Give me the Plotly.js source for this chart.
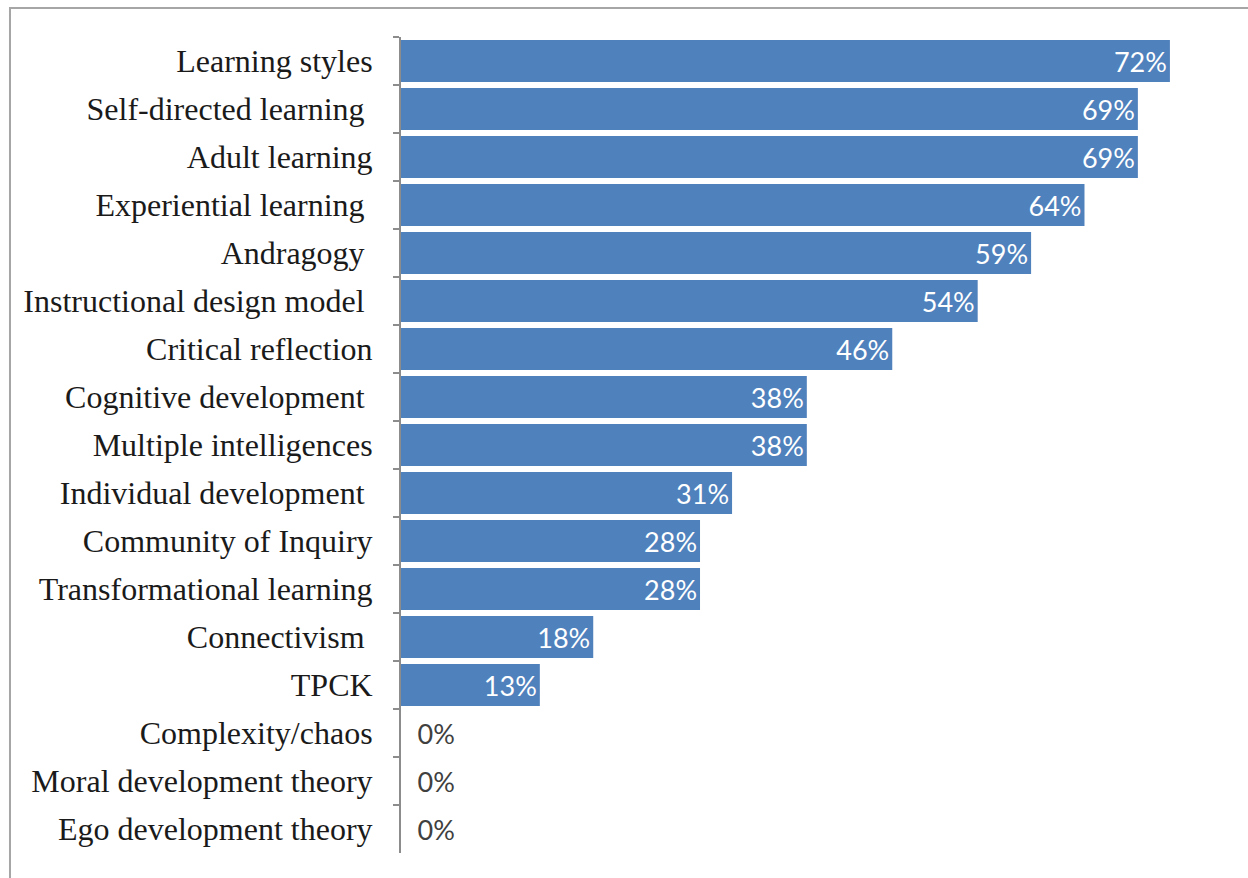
<!DOCTYPE html>
<html>
<head>
<meta charset="utf-8">
<script src="https://cdn.plot.ly/plotly-3.0.1.min.js"></script>
<style>html,body{margin:0;padding:0;background:#fff;}#chart{width:1248px;height:878px;}</style>
</head>
<body>
<div id="chart"></div>
<script>
const categories = [
  "Learning styles",
  "Self-directed learning\u00a0",
  "Adult learning",
  "Experiential learning\u00a0",
  "Andragogy\u00a0",
  "Instructional design model\u00a0",
  "Critical reflection",
  "Cognitive development\u00a0",
  "Multiple intelligences",
  "Individual development\u00a0",
  "Community of Inquiry",
  "Transformational learning",
  "Connectivism\u00a0",
  "TPCK",
  "Complexity/chaos",
  "Moral development theory",
  "Ego development theory"
];
const percentages = [72, 69, 69, 64, 59, 54, 46, 38, 38, 31, 28, 28, 18, 13, 0, 0, 0];

const positions = percentages.map(v => v > 0 ? 'inside' : 'outside');
const templates = percentages.map(v => v > 0 ? '%{x}%' : '\u2002%{x}%');

const trace = {
  type: 'bar',
  orientation: 'h',
  y: categories,
  x: percentages,
  marker: {color: '#4f81bd'},
  texttemplate: templates,
  textposition: positions,
  insidetextanchor: 'end',
  insidetextfont: {family: 'Lato, "Liberation Sans", sans-serif', size: 27, color: '#ffffff'},
  outsidetextfont: {family: 'Lato, "Liberation Sans", sans-serif', size: 27, color: '#404040'},
  textangle: 0,
  cliponaxis: false,
  hoverinfo: 'skip'
};

const layout = {
  width: 1248,
  height: 878,
  margin: {l: 401, r: 14, t: 37, b: 25, pad: 0},
  paper_bgcolor: '#ffffff',
  plot_bgcolor: '#ffffff',
  showlegend: false,
  bargap: 0.125,
  xaxis: {
    range: [0, 78],
    showgrid: false,
    zeroline: false,
    showline: false,
    showticklabels: false,
    ticks: '',
    fixedrange: true
  },
  yaxis: {
    type: 'category',
    autorange: 'reversed',
    showgrid: false,
    zeroline: false,
    showline: true,
    linecolor: '#8c8c8c',
    linewidth: 2,
    ticks: 'outside',
    tickson: 'boundaries',
    ticklen: 6,
    tickwidth: 2,
    tickcolor: '#8c8c8c',
    ticklabelstandoff: 20,
    tickfont: {family: '"Liberation Serif", "Times New Roman", serif', size: 32, color: '#1a1a1a'},
    fixedrange: true
  },
  shapes: [{
    type: 'rect', xref: 'paper', yref: 'paper',
    x0: -0.4694, x1: 1.2, y0: -0.2, y1: 1.0355,
    line: {color: '#a6a6a6', width: 2},
    fillcolor: 'rgba(0,0,0,0)',
    layer: 'below'
  }]
};

Plotly.newPlot('chart', [trace], layout, {displayModeBar: false, staticPlot: true});
</script>
</body>
</html>
